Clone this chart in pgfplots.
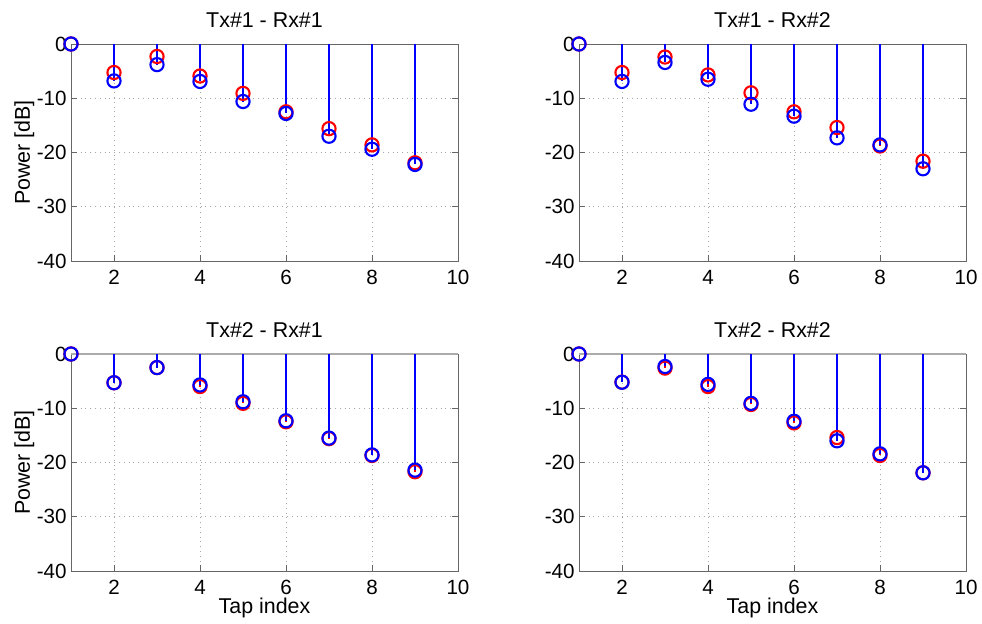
\documentclass[border=0pt]{standalone}
\usepackage{fontspec}
\setmainfont{Liberation Sans}
\usepackage{pgfplots}
\usepackage{pgfplotstable}
\pgfplotsset{compat=1.18}
\usepgfplotslibrary{groupplots}

\pgfplotstableread{
x r b
1 0 0
2 -5.25 -6.8
3 -2.3 -3.8
4 -5.9 -6.9
5 -9.1 -10.6
6 -12.5 -12.8
7 -15.6 -17.0
8 -18.6 -19.4
9 -21.9 -22.2
}\tA
\pgfplotstableread{
x r b
1 0 0
2 -5.25 -6.9
3 -2.4 -3.4
4 -5.7 -6.5
5 -9.0 -11.1
6 -12.5 -13.3
7 -15.4 -17.3
8 -18.8 -18.6
9 -21.6 -23.0
}\tB
\pgfplotstableread{
x r b
1 0 0
2 -5.3 -5.3
3 -2.5 -2.5
4 -6.0 -5.7
5 -9.1 -8.8
6 -12.5 -12.3
7 -15.6 -15.5
8 -18.7 -18.6
9 -21.7 -21.4
}\tC
\pgfplotstableread{
x r b
1 0 0
2 -5.2 -5.2
3 -2.6 -2.3
4 -6.0 -5.6
5 -9.3 -9.1
6 -12.7 -12.4
7 -15.4 -16.0
8 -18.7 -18.4
9 -21.9 -21.9
}\tD

\pgfplotsset{
  stemr/.style={ycomb, color=red, line width=1.05pt, mark=o, mark size=3.3pt, mark options={solid, line width=1.05pt}},
  stemb/.style={ycomb, color=blue, line width=1.05pt, mark=o, mark size=3.3pt, mark options={solid, line width=1.05pt}},
}

\begin{document}
\begin{tikzpicture}
\begin{groupplot}[
  group style={group size=2 by 2, horizontal sep=60.5pt, vertical sep=46.5pt},
  scale only axis, width=193.5pt, height=108.5pt,
  xmin=1, xmax=10, ymin=-40, ymax=0,
  xtick={2,4,6,8,10}, ytick={-40,-30,-20,-10,0},
  grid=major, major grid style={dotted, black!35, line width=0.5pt},
  axis line style={black!60, line width=0.5pt},
  tick style={black!60, line width=0.5pt},
  tick align=inside, major tick length=3pt,
  /pgf/number format/assume math mode=true,
  ticklabel style={font=\fontsize{10.3}{12}\selectfont},
  xticklabel style={yshift=-1pt},
  yticklabel style={xshift=1.3pt},
  every axis title shift=0pt,
  title style={font=\fontsize{10.7}{12}\selectfont, at={(axis description cs:0.5,1.078)}, anchor=base},
  xlabel style={font=\fontsize{10.7}{12}\selectfont, at={(axis description cs:0.5,-0.198)}, anchor=base},
  ylabel style={font=\fontsize{10.7}{12}\selectfont, at={(axis description cs:-0.106,0.5)}, anchor=base},
  clip=false,
]
\nextgroupplot[title={Tx\#1 - Rx\#1}, ylabel={Power [dB]}]
\addplot[stemr] table[x=x, y=r] {\tA};
\addplot[stemb] table[x=x, y=b] {\tA};
\nextgroupplot[title={Tx\#1 - Rx\#2}]
\addplot[stemr] table[x=x, y=r] {\tB};
\addplot[stemb] table[x=x, y=b] {\tB};
\nextgroupplot[title={Tx\#2 - Rx\#1}, ylabel={Power [dB]}, xlabel={Tap index}]
\addplot[black!33, line width=1pt, forget plot] coordinates {(1,0) (10,0)};
\addplot[stemr] table[x=x, y=r] {\tC};
\addplot[stemb] table[x=x, y=b] {\tC};
\nextgroupplot[title={Tx\#2 - Rx\#2}, xlabel={Tap index}]
\addplot[black!33, line width=1pt, forget plot] coordinates {(1,0) (10,0)};
\addplot[stemr] table[x=x, y=r] {\tD};
\addplot[stemb] table[x=x, y=b] {\tD};
\end{groupplot}
\pgfresetboundingbox
\path[use as bounding box] ([xshift=-35.5pt,yshift=22pt]group c1r1.north west) rectangle ([xshift=8pt,yshift=-26.5pt]group c2r2.south east);
\end{tikzpicture}
\end{document}
